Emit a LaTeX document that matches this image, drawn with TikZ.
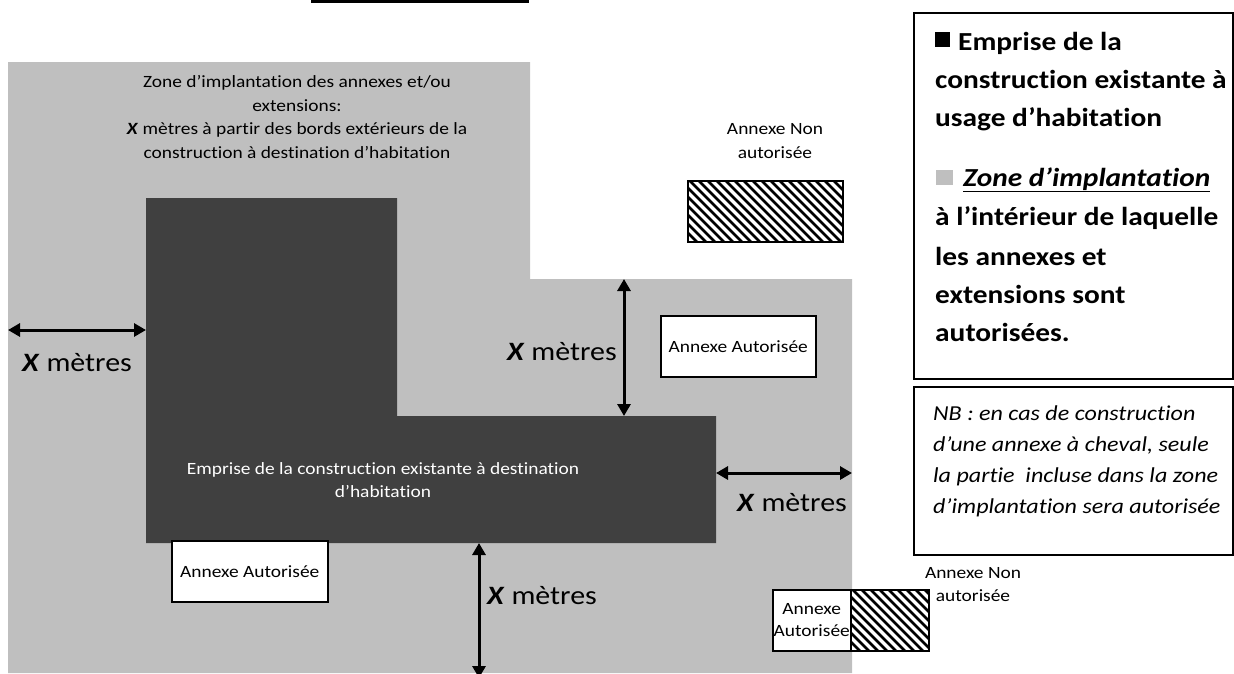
\documentclass[tikz,border=0pt]{standalone}
\usepackage{fontspec}
\setmainfont{Carlito}[FakeStretch=1.13,Ligatures=NoCommon]
\usetikzlibrary{arrows.meta}
\definecolor{zonegray}{RGB}{191,191,191}
\definecolor{bldgray}{RGB}{64,64,64}
\begin{document}
\begin{tikzpicture}[x=1pt,y=-1pt,
  dim/.style={line width=3pt,{Triangle[length=12pt,width=13pt]}-{Triangle[length=12pt,width=13pt]}},
  lbl/.style={font=\fontsize{26.5}{30}\selectfont,inner sep=0pt},
  small/.style={font=\fontsize{17.2}{23.5}\selectfont,align=center,inner sep=0pt},
  annex/.style={draw=black,line width=1.5pt,fill=white,inner sep=0pt,font=\fontsize{17.2}{22}\selectfont,align=center,anchor=north west},
  hatch/.style={draw=black,line width=1.5pt,fill=white,inner sep=0pt,anchor=north west,
    path picture={\foreach \d in {-70,-61,...,170}{\draw[line width=2.8pt] ([xshift=\d pt]path picture bounding box.north west) -- ++(80,80);}}},
  legend/.style={font=\fontsize{26}{30}\selectfont\bfseries,anchor=base west,inner sep=0pt},
  nb/.style={font=\fontsize{21.3}{24}\selectfont\itshape,anchor=base west,inner sep=0pt},
  frame/.style={draw=black,line width=2pt,inner sep=0pt,anchor=north west}
]
\useasboundingbox (0,0) rectangle (1234,673);
% top fragment
\draw[line width=3pt] (311,1) -- (529,1);
% zone d'implantation
\fill[zonegray] (8,62) -- (530,62) -- (530,279) -- (852,279) -- (852,673) -- (8,673) -- cycle;
% building
\fill[bldgray] (146,198) -- (397,198) -- (397,416) -- (716,416) -- (716,543) -- (146,543) -- cycle;
% texts in zone and building
\node[small] (zonetxt) at (297,117) {Zone d’implantation des annexes et/ou\\extensions:\\\textbf{\textit{X}} mètres à partir des bords extérieurs de la\\construction à destination d’habitation};
\node[small,text=white] (bldtxt) at (383,480) {Emprise de la construction existante à destination\\d’habitation};
% coordinates of dimension arrows
\coordinate (zL) at (8,330); \coordinate (bL) at (146,330);
\coordinate (zT) at (624,279); \coordinate (bT) at (624,416);
\coordinate (bR) at (716,473); \coordinate (zR) at (852,473);
\coordinate (bB) at (479,543); \coordinate (zB) at (479,678);
\draw[dim] (zL) -- (bL);
\draw[dim] (zT) -- (bT);
\draw[dim] (bR) -- (zR);
\draw[dim] (bB) -- (zB);
\node[lbl] (xl) at (77,363) {\textbf{\textit{X}} mètres};
\node[lbl,anchor=east] (xt) at (617,352) {\textbf{\textit{X}} mètres};
\node[lbl] (xr) at (792,503) {\textbf{\textit{X}} mètres};
\node[lbl] (xb) at (542,596) {\textbf{\textit{X}} mètres};
% annexes
\node[annex,minimum width=156pt,minimum height=61pt] (a1) at (171,540) {Annexe Autorisée};
\node[annex,minimum width=155pt,minimum height=61pt] (a2) at (660,315) {Annexe Autorisée};
\node[hatch,minimum width=155pt,minimum height=61pt] (h1) at (687,180) {};
\node[font=\fontsize{17.2}{24}\selectfont,align=center,inner sep=0pt] (h1txt) at (775,141) {Annexe Non\\autorisée};
\node[annex,minimum width=78pt,minimum height=61pt] (a3) at (772,589) {Annexe\\Autorisée};
\node[hatch,minimum width=78pt,minimum height=61pt] (h2) at (850,589) {};
\node[font=\fontsize{17.2}{23}\selectfont,align=center,inner sep=0pt] (h2txt) at (973,585) {Annexe Non\\autorisée};
% legend
\node[frame,minimum width=319pt,minimum height=366pt] (legbox) at (913,12) {};
\fill[black] (935,32) rectangle (950,47);
\fill[zonegray] (936,170) rectangle (953,185);
\node[legend] (l1) at (958,50) {Emprise de la};
\node[legend] (l2) at (935,88) {construction existante à};
\node[legend] (l3) at (935,126) {usage d’habitation};
\node[legend] (l4) at (963,186) {\underline{\textit{Zone d’implantation}}};
\node[legend] (l5) at (935,225) {à l’intérieur de laquelle};
\node[legend] (l6) at (935,265) {les annexes et};
\node[legend] (l7) at (935,303) {extensions sont};
\node[legend] (l8) at (935,341) {autorisées.};
% NB
\node[frame,minimum width=319pt,minimum height=168pt] (nbbox) at (913,386) {};
\node[nb] (n1) at (933,420) {NB : en cas de construction};
\node[nb] (n2) at (933,451) {d’une annexe à cheval, seule};
\node[nb] (n3) at (933,482) {la partie~ incluse dans la zone};
\node[nb] (n4) at (933,513) {d’implantation sera autorisée};
\end{tikzpicture}
\end{document}
